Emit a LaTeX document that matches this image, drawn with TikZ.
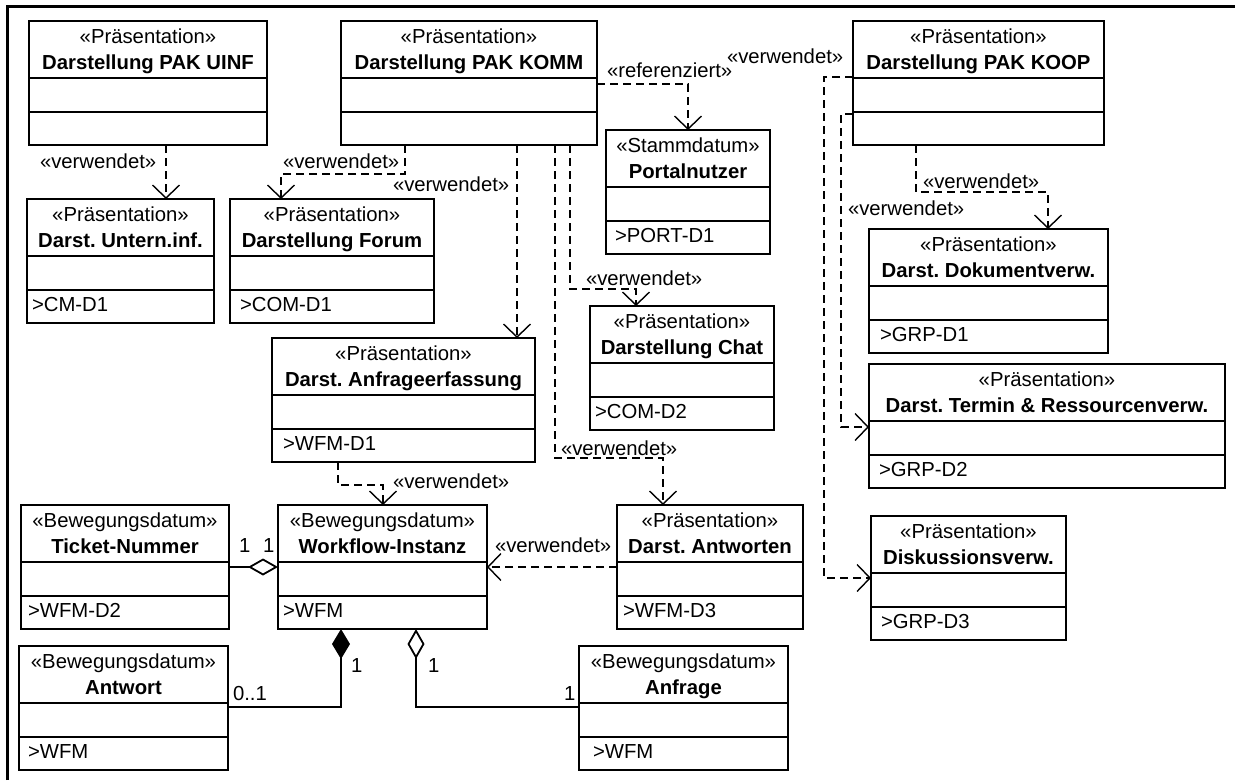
\documentclass[tikz,border=0pt]{standalone}
\usepackage{fontspec}
\setmainfont{Liberation Sans}
\usetikzlibrary{arrows.meta}
\frenchspacing

\tikzset{
  classbox/.style={draw, line width=2pt, inner sep=0pt, outer sep=0pt,
    minimum height=124pt, anchor=north west},
  divider/.style={line width=1.8pt},
  txt/.style={inner sep=0pt, outer sep=0pt, font=\fontsize{20.3}{24}\selectfont},
  ttl/.style={txt, font=\fontsize{20.3}{24}\selectfont\bfseries},
  lbl/.style={txt, anchor=base west},
  dep/.style={line width=1.4pt, dash pattern=on 8pt off 5pt,
    -{Straight Barb[length=13pt,width=27pt]}},
  assoc/.style={line width=1.8pt},
  aggr/.style={assoc, -{Diamond[open,fill=white,length=30pt,width=17pt]}},
  comp/.style={assoc, -{Diamond[length=30pt,width=18pt]}},
}

% #1 name, #2 left x, #3 right x, #4 top y, #5 stereotype, #6 class name,
% #7 attribute line, #8 indent of the attribute line
\newcommand\umlclass[8]{%
  \node[classbox, minimum width={#3pt-#2pt}] (#1) at (#2,#4) {};
  \draw[divider] ([yshift=-57pt]#1.north west) -- ([yshift=-57pt]#1.north east);
  \draw[divider] ([yshift=-91pt]#1.north west) -- ([yshift=-91pt]#1.north east);
  \node[txt, anchor=base] (#1-st) at ([yshift=-22pt]#1.north) {«#5»};
  \node[ttl, anchor=base] (#1-nm) at ([yshift=-48pt]#1.north) {#6};
  \node[txt, anchor=base west] (#1-at) at ([xshift=#8pt,yshift=-112pt]#1.north west) {#7};
}

\begin{document}
\begin{tikzpicture}[x=1pt, y=-1pt]
\useasboundingbox (0,0) rectangle (1235,780);

% frame
\draw[line width=3pt] (7.5,780) -- (7.5,6.5) -- (1235,6.5);

% classes
\umlclass{uinf}{29}{267}{21}{Präsentation}{Darstellung PAK UINF}{}{5}
\umlclass{komm}{341}{597}{21}{Präsentation}{Darstellung PAK KOMM}{}{5}
\umlclass{koop}{853}{1104}{21}{Präsentation}{Darstellung PAK KOOP}{}{5}
\umlclass{untern}{27}{214}{199}{Präsentation}{Darst. Untern.inf.}{>CM-D1}{5}
\umlclass{forum}{230}{434}{199}{Präsentation}{Darstellung Forum}{>COM-D1}{10}
\umlclass{portal}{606}{770}{130}{Stammdatum}{Portalnutzer}{>PORT-D1}{9}
\umlclass{chat}{590}{774}{306}{Präsentation}{Darstellung Chat}{>COM-D2}{5}
\umlclass{anfrerf}{272}{535}{338}{Präsentation}{Darst. Anfrageerfassung}{>WFM-D1}{11}
\umlclass{dokver}{869}{1108}{229}{Präsentation}{Darst. Dokumentverw.}{>GRP-D1}{11}
\umlclass{termin}{869}{1225}{364}{Präsentation}{Darst. Termin \& Ressourcenverw.}{>GRP-D2}{10}
\umlclass{diskver}{871}{1066}{516}{Präsentation}{Diskussionsverw.}{>GRP-D3}{10}
\umlclass{ticket}{21}{229}{505}{Bewegungsdatum}{Ticket-Nummer}{>WFM-D2}{7}
\umlclass{wfi}{278}{487}{505}{Bewegungsdatum}{Workflow-Instanz}{>WFM}{5}
\umlclass{antworten}{617}{803}{505}{Präsentation}{Darst. Antworten}{>WFM-D3}{6}
\umlclass{antwort}{19}{228}{646}{Bewegungsdatum}{Antwort}{>WFM}{9}
\umlclass{anfrage}{579}{788}{646}{Bewegungsdatum}{Anfrage}{>WFM}{14}

% dependencies
\draw[dep] ([xshift=137pt]uinf.south west) coordinate (d1) -- (d1 |- untern.north);
\draw[dep] ([xshift=64pt]komm.south west) -- ++(0,29) -| ([xshift=51pt]forum.north west);
\draw[dep] ([xshift=176pt]komm.south west) -- ([xshift=245pt]anfrerf.north west);
\draw[dep] ([xshift=214pt]komm.south west) |- ([xshift=46pt,yshift=47pt]antworten.north west)
  -- ([xshift=46pt]antworten.north west);
\draw[dep] ([xshift=229pt]komm.south west) |- ([xshift=46pt,yshift=17pt]chat.north west)
  -- ([xshift=46pt]chat.north west);
\draw[dep] ([yshift=-63pt]komm.north east) -| ([xshift=82pt]portal.north west);
\draw[dep] ([xshift=63pt]koop.south west) -- ++(0,47) -| ([xshift=179pt]dokver.north west);
\draw[dep] ([yshift=-93pt]koop.north west) -- ++(-12,0) |- ([yshift=-63pt]termin.north west);
\draw[dep] ([yshift=-56pt]koop.north west) -- ++(-29,0) |- ([yshift=-62pt]diskver.north west);
\draw[dep] ([xshift=66pt]anfrerf.south west) -- ++(0,23) -| ([xshift=105pt]wfi.north west);
\draw[dep] ([yshift=-62pt]antworten.north west) -- ([yshift=-62pt]wfi.north east);

% dependency labels
\node[lbl] (l1) at (40,168) {«verwendet»};
\node[lbl] (l2) at (283,168) {«verwendet»};
\node[lbl] (l3) at (393,191) {«verwendet»};
\node[lbl] (l4) at (607,77) {«referenziert»};
\node[lbl] (l5) at (727,63) {«verwendet»};
\node[lbl] (l6) at (923,188) {«verwendet»};
\node[lbl] (l7) at (848,215) {«verwendet»};
\node[lbl] (l8) at (586,285) {«verwendet»};
\node[lbl] (l9) at (561,455) {«verwendet»};
\node[lbl] (l10) at (393,488) {«verwendet»};
\node[lbl] (l11) at (495,552) {«verwendet»};

% associations
\draw[aggr] ([yshift=-62pt]ticket.north east) -- ([yshift=-62pt]wfi.north west);
\draw[comp] ([yshift=-61pt]antwort.north east) -| ([xshift=63pt]wfi.south west);
\draw[aggr] ([yshift=-61pt]anfrage.north west) -| ([xshift=138pt]wfi.south west);

% multiplicities
\node[lbl] (m1) at (239,552) {1};
\node[lbl] (m2) at (263,552) {1};
\node[lbl] (m3) at (351,672) {1};
\node[lbl] (m4) at (428,672) {1};
\node[lbl] (m5) at (233,700) {0..1};
\node[lbl] (m6) at (564,700) {1};
\end{tikzpicture}
\end{document}
